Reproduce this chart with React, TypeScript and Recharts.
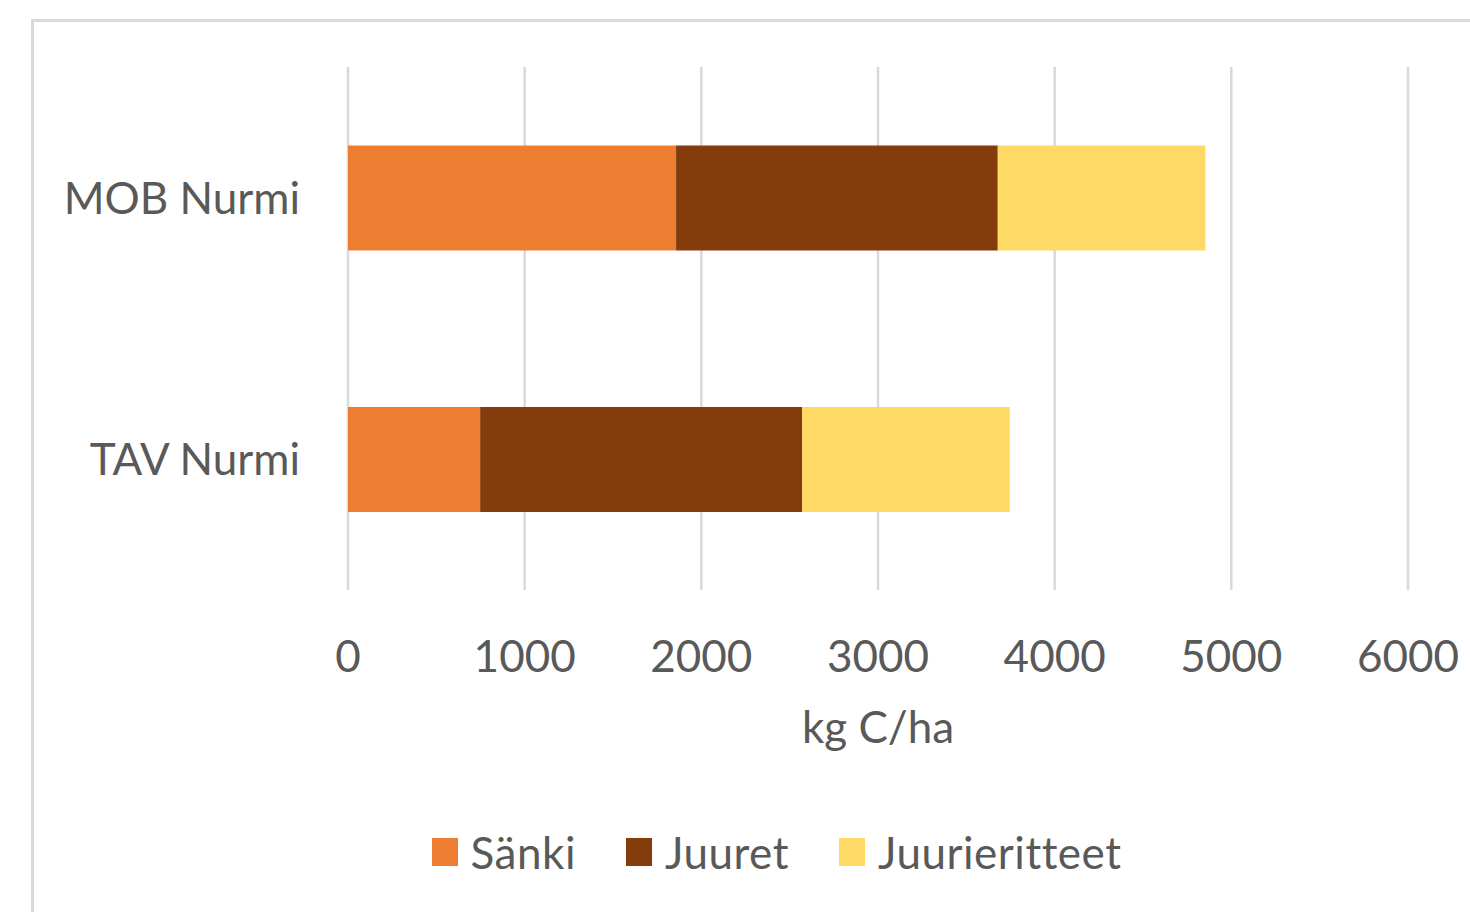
import { BarChart, Bar, XAxis, YAxis, CartesianGrid, Legend, Label } from "recharts";

const categories = ["MOB Nurmi", "TAV Nurmi"];
const seriesNames = ["Sänki", "Juuret", "Juurieritteet"];
const sanki = [1857, 748];
const juuret = [1821, 1822];
const juurieritteet = [1175, 1176];
const xTicks = [0, 1000, 2000, 3000, 4000, 5000, 6000];

const data = categories.map((name, i) => ({
  name,
  sanki: sanki[i],
  juuret: juuret[i],
  juurieritteet: juurieritteet[i],
}));

const FONT = "Lato, 'Open Sans', sans-serif";
const TEXT = "#595959";
const FS = 44;

function YTick({ x, y, payload }: any) {
  return (
    <text x={x - 48} y={y + 16} textAnchor="end" fill={TEXT} fontSize={FS} fontFamily={FONT}>
      {payload.value}
    </text>
  );
}

function XTick({ x, y, payload }: any) {
  return (
    <text x={x} y={y + 82} textAnchor="middle" fill={TEXT} fontSize={FS} fontFamily={FONT}>
      {payload.value}
    </text>
  );
}

function LegendContent({ payload }: any) {
  const items = [...(payload || [])].sort(
    (a: any, b: any) => seriesNames.indexOf(a.value) - seriesNames.indexOf(b.value)
  );
  return (
    <div style={{ display: "flex", justifyContent: "center", gap: 50, fontFamily: FONT }}>
      {items.map((p: any) => (
        <div key={p.value} style={{ display: "flex", alignItems: "center", gap: 13 }}>
          <span style={{ width: 26, height: 28, background: p.color, display: "inline-block" }} />
          <span style={{ color: TEXT, fontSize: FS, lineHeight: "56px", letterSpacing: 0.5 }}>{p.value}</span>
        </div>
      ))}
    </div>
  );
}

export default function App() {
  return (
    <div style={{ position: "absolute", left: 0, top: 0, width: 1470, height: 912, overflow: "hidden", background: "#fff" }}>
      <div
        style={{
          position: "absolute",
          left: 31,
          top: 19,
          width: 1600,
          height: 1000,
          border: "3px solid #d9d9d9",
        }}
      />
      <div style={{ position: "absolute", left: 0, top: 0 }}>
        <BarChart
          width={1470}
          height={912}
          data={data}
          layout="vertical"
          margin={{ top: 67, right: 62, bottom: 0, left: 2 }}
          barCategoryGap="30%"
        >
          <CartesianGrid horizontal={false} stroke="#d9d9d9" strokeWidth={2.5} />
          <XAxis
            type="number"
            domain={[0, 6000]}
            ticks={xTicks}
            height={322}
            axisLine={false}
            tickLine={false}
            tickSize={0}
            tickMargin={0}
            tick={<XTick />}
            interval={0}
          >
            <Label
              content={({ viewBox }: any) => (
                <text
                  x={viewBox.x + viewBox.width / 2}
                  y={viewBox.y + 153}
                  textAnchor="middle"
                  fill={TEXT}
                  fontSize={FS}
                  fontFamily={FONT}
                >
                  kg C/ha
                </text>
              )}
            />
          </XAxis>
          <YAxis
            type="category"
            dataKey="name"
            width={346}
            axisLine={false}
            tickLine={false}
            tickSize={0}
            tickMargin={0}
            tick={<YTick />}
          />
          <Legend
            layout="horizontal"
            verticalAlign="middle"
            align="center"
            content={<LegendContent />}
            wrapperStyle={{ position: "absolute", top: 824, left: 0, width: 1553 }}
          />
          <Bar dataKey="sanki" name="Sänki" stackId="a" fill="#ED7D31" isAnimationActive={false} />
          <Bar dataKey="juuret" name="Juuret" stackId="a" fill="#843C0C" isAnimationActive={false} />
          <Bar dataKey="juurieritteet" name="Juurieritteet" stackId="a" fill="#FFD966" isAnimationActive={false} />
        </BarChart>
      </div>
    </div>
  );
}
